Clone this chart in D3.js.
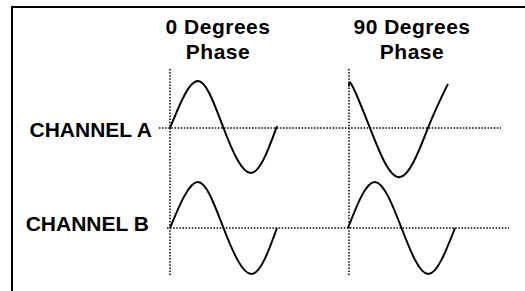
<!DOCTYPE html>
<html>
<head>
<meta charset="utf-8">
<script src="https://cdn.jsdelivr.net/npm/d3@7"></script>
<style>
  html, body { margin: 0; padding: 0; background: #fff; }
  svg { display: block; }
  text { font-family: "Liberation Sans", Arial, sans-serif; font-weight: bold; fill: #000; }
</style>
</head>
<body>
<div id="chart"></div>
<script>
// column headings (two lines each) and row labels
const phases = [0, 90];
const phaseTitles = [["0 Degrees", "Phase"], ["90 Degrees", "Phase"]];
const channels = ["CHANNEL A", "CHANNEL B"];

// wave shapes: [cycle fraction, amplitude]
const waveA0 = [[0, 0], [0.26, 1.02], [0.5, 0], [0.757, -0.98], [1.0, 0.04]];
const waveA90 = [[0, 0.9], [0.03, 0.92], [0.196, 0], [0.47, -1.07], [0.738, 0], [0.925, 0.96]];
const waveB0 = [[0, 0], [0.26, 1.0], [0.5, 0], [0.76, -1.0], [1.0, 0]];
const waveB90 = [[0, 0], [0.25, 1.0], [0.5, 0], [0.75, -1.0], [1.0, 0]];

const waves = [
  { channel: "CHANNEL A", phase: 0, pts: waveA0 },
  { channel: "CHANNEL A", phase: 90, pts: waveA90 },
  { channel: "CHANNEL B", phase: 0, pts: waveB0 },
  { channel: "CHANNEL B", phase: 90, pts: waveB90 }
];

const width = 525, height = 291;

const svg = d3.select("#chart").append("svg")
  .attr("width", width)
  .attr("height", height);

// frame (top and left edges visible)
svg.append("path")
  .attr("d", `M12,${height + 5} L12,7 L${width + 5},7`)
  .attr("fill", "none")
  .attr("stroke", "#000")
  .attr("stroke-width", 2);

const x = d3.scalePoint().domain(phases).range([170, 349]);
const y = d3.scalePoint().domain(channels).range([128, 228]);

// one cycle is 107px wide, amplitude 46px
const cx = d3.scaleLinear().domain([0, 1]).range([0, 107]);
const cy = d3.scaleLinear().domain([-1, 1]).range([46, -46]);

// dotted reference lines
const dotted = g => g.attr("stroke", "#000")
  .attr("stroke-width", 1.5)
  .attr("stroke-dasharray", "1.5,1.6");

svg.selectAll("line.vref")
  .data(phases)
  .join("line")
  .attr("class", "vref")
  .attr("x1", d => x(d)).attr("x2", d => x(d))
  .attr("y1", 69).attr("y2", 276)
  .call(dotted);

svg.selectAll("line.href")
  .data(channels)
  .join("line")
  .attr("class", "href")
  .attr("x1", (d, i) => i === 0 ? 159 : 167)
  .attr("x2", (d, i) => i === 0 ? 501 : 509)
  .attr("y1", d => y(d)).attr("y2", d => y(d))
  .call(dotted);

// row labels
svg.selectAll("text.chan")
  .data(channels)
  .join("text")
  .attr("class", "chan")
  .attr("x", (d, i) => i === 0 ? 152 : 149)
  .attr("y", d => y(d) + (d === "CHANNEL A" ? 9 : 3))
  .attr("text-anchor", "end")
  .style("font-size", "21px")
  .text(d => d);

// column titles
const titleX = [218, 412];
phaseTitles.forEach((lines, i) => {
  lines.forEach((t, j) => {
    svg.append("text")
      .attr("x", titleX[i])
      .attr("y", 34 + j * 25)
      .attr("text-anchor", "middle")
      .style("font-size", "21px")
      .style("letter-spacing", "0.5px")
      .text(t);
  });
});

// the waves
const line = d3.line()
  .x(d => cx(d[0]))
  .y(d => cy(d[1]))
  .curve(d3.curveNatural);

svg.selectAll("path.wave")
  .data(waves)
  .join("path")
  .attr("class", "wave")
  .attr("transform", d => `translate(${x(d.phase) - (d.channel === "CHANNEL B" && d.phase === 90 ? 1 : 0)},${y(d.channel)})`)
  .attr("d", d => line(d.pts))
  .attr("fill", "none")
  .attr("stroke", "#000")
  .attr("stroke-width", 2);
</script>
</body>
</html>
